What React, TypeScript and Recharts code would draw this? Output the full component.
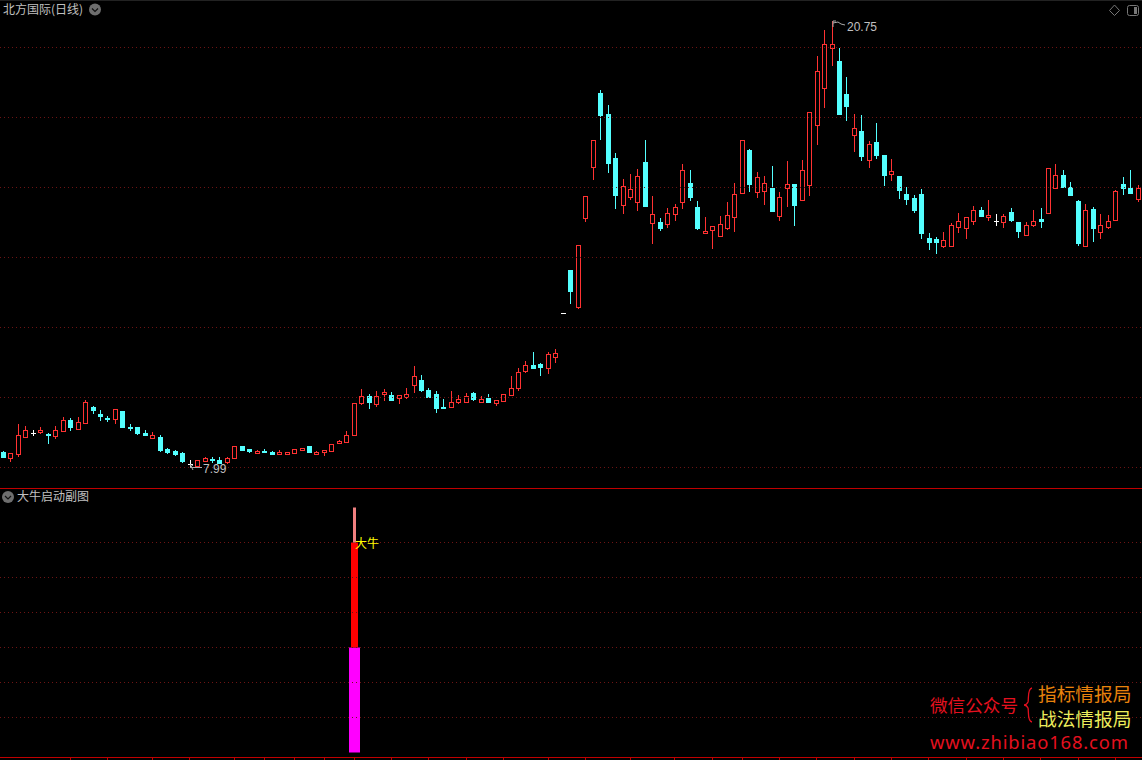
import React from "react";
import { Bar, ComposedChart, ReferenceLine, XAxis, YAxis } from "recharts";

const opens = [
  8.44, 8.28, 8.39, 8.88, 8.98, 9.02, 8.95, 8.9, 9.05, 9.35,
  9.1, 9.28, 9.73, 9.53, 9.4, 9.39, 9.61, 9.15, 9.15, 8.98,
  8.85, 8.87, 8.53, 8.47, 8.41, 8.09, 8.05, 8.19, 8.24, 8.2,
  8.15, 8.28, 8.6, 8.54, 8.42, 8.48, 8.44, 8.38, 8.38, 8.42,
  8.51, 8.61, 8.38, 8.45, 8.48, 8.71, 8.74, 8.93, 9.84, 10.04,
  9.82, 10.1, 10.07, 9.99, 10.01, 10.35, 10.5, 10.21, 10.1, 9.73,
  9.73, 9.87, 9.87, 10.13, 9.87, 9.98, 9.85, 9.9, 10.07, 10.28,
  10.75, 10.93, 10.95, 10.85, 11.16, 12.4, 13.64, 12.59, 15.14, 16.59,
  18.7, 18.1, 16.84, 15.51, 15.74, 15.59, 16.73, 14.99, 15.01, 14.97,
  15.25, 15.59, 16.13, 15.44, 14.71, 14.79, 14.62, 14.85, 15.17, 15.85,
  17.07, 15.88, 15.91, 15.98, 15.19, 15.99, 16.1, 15.64, 16.08, 17.78,
  18.85, 19.99, 19.61, 18.67, 17.51, 17.61, 16.79, 17.3, 16.93, 16.39,
  16.33, 15.81, 15.7, 15.81, 14.56, 14.53, 14.33, 14.33, 14.87, 14.84,
  15.05, 15.36, 15.16, 15.03, 15.01, 15.3, 15.01, 14.64, 14.93, 15.1,
  15.28, 15.98, 16.36, 16.01, 15.61, 14.33, 15.38, 14.73, 14.87, 15.07,
  16.1, 15.98, 15.67,
];
const closes = [
  8.3, 8.4, 8.92, 9.06, 8.98, 9.08, 8.94, 9.06, 9.35, 9.15,
  9.29, 9.87, 9.65, 9.48, 9.38, 9.66, 9.15, 9.13, 8.98, 8.93,
  8.92, 8.5, 8.44, 8.38, 8.18, 8.09, 8.2, 8.26, 8.22, 8.12,
  8.27, 8.6, 8.5, 8.47, 8.47, 8.45, 8.38, 8.44, 8.44, 8.52,
  8.57, 8.44, 8.44, 8.49, 8.66, 8.75, 8.94, 9.83, 10.03, 9.87,
  10.03, 10.17, 9.93, 10.06, 10.09, 10.6, 10.21, 10.01, 9.7, 9.7,
  9.86, 9.97, 10.03, 9.95, 9.97, 9.87, 9.92, 10.09, 10.26, 10.74,
  10.94, 10.85, 10.87, 11.23, 11.26, 12.4, 13.04, 14.35, 15.77, 17.35,
  18.07, 16.7, 15.78, 16.03, 15.97, 16.32, 15.47, 15.23, 14.84, 15.26,
  15.43, 16.49, 15.73, 14.84, 14.76, 14.89, 14.95, 15.2, 15.8, 17.37,
  16.1, 16.29, 16.12, 15.33, 15.73, 16.09, 15.5, 16.49, 18.15, 19.32,
  20.09, 20.09, 18.1, 18.33, 17.69, 16.9, 17.23, 16.93, 16.36, 16.46,
  15.93, 15.67, 15.36, 14.7, 14.44, 14.44, 14.49, 14.93, 15.04, 15.16,
  15.36, 15.18, 15.21, 15.03, 15.18, 15.07, 14.76, 14.93, 15.04, 15.04,
  16.55, 16.35, 16.01, 15.78, 14.41, 15.35, 14.84, 14.93, 15.04, 15.89,
  15.98, 15.84, 15.98,
];
const highs = [
  8.47, 8.4, 9.24, 9.18, 9.08, 9.15, 8.98, 9.18, 9.44, 9.41,
  9.44, 9.93, 9.75, 9.64, 9.47, 9.66, 9.61, 9.24, 9.15, 9.07,
  9.0, 8.93, 8.55, 8.5, 8.44, 8.21, 8.2, 8.3, 8.3, 8.3,
  8.31, 8.6, 8.6, 8.54, 8.49, 8.53, 8.47, 8.5, 8.44, 8.52,
  8.57, 8.61, 8.46, 8.49, 8.66, 8.78, 9.03, 9.83, 10.23, 10.1,
  10.18, 10.23, 10.15, 10.06, 10.27, 10.9, 10.64, 10.27, 10.18, 9.95,
  10.18, 10.07, 10.13, 10.15, 10.04, 10.1, 9.92, 10.09, 10.61, 10.84,
  11.04, 11.3, 10.98, 11.3, 11.38, 12.41, 13.64, 14.35, 15.77, 17.35,
  18.78, 18.36, 16.98, 16.24, 16.38, 16.53, 17.36, 15.76, 15.13, 15.41,
  15.53, 16.67, 16.5, 15.61, 15.16, 14.89, 15.18, 15.58, 16.13, 17.37,
  17.1, 16.44, 16.33, 16.61, 15.87, 16.76, 16.1, 16.78, 18.15, 19.76,
  20.5, 20.75, 19.98, 19.16, 18.1, 18.07, 17.33, 17.84, 16.93, 16.81,
  16.33, 16.01, 15.78, 15.96, 14.7, 14.58, 14.73, 14.98, 15.27, 15.16,
  15.47, 15.44, 15.64, 15.24, 15.24, 15.41, 15.01, 15.01, 15.36, 15.41,
  16.55, 16.67, 16.5, 16.16, 15.64, 15.53, 15.44, 15.24, 15.21, 15.93,
  16.3, 16.5, 16.07,
];
const lows = [
  8.27, 8.15, 8.3, 8.88, 8.9, 8.95, 8.67, 8.81, 9.05, 9.04,
  9.07, 9.28, 9.53, 9.33, 9.3, 9.24, 9.15, 9.04, 8.93, 8.9,
  8.81, 8.44, 8.38, 8.33, 8.13, 7.99, 8.03, 8.18, 8.13, 8.1,
  8.1, 8.28, 8.47, 8.41, 8.42, 8.41, 8.38, 8.38, 8.38, 8.42,
  8.51, 8.41, 8.38, 8.33, 8.48, 8.71, 8.7, 8.93, 9.78, 9.67,
  9.73, 9.9, 9.93, 9.81, 9.95, 10.13, 10.15, 9.98, 9.55, 9.67,
  9.73, 9.81, 9.84, 9.9, 9.84, 9.84, 9.75, 9.87, 10.04, 10.18,
  10.7, 10.81, 10.61, 10.67, 10.98, 12.39, 12.67, 12.53, 15.01, 16.21,
  17.36, 16.41, 15.38, 15.24, 15.64, 15.33, 15.44, 14.38, 14.76, 14.84,
  15.04, 15.38, 15.61, 14.78, 14.67, 14.24, 14.62, 14.78, 14.73, 15.85,
  15.87, 15.7, 15.5, 15.3, 15.04, 15.44, 14.9, 15.64, 15.76, 17.21,
  18.27, 19.47, 18.1, 17.9, 17.01, 16.76, 16.56, 16.81, 16.04, 16.18,
  15.67, 15.5, 15.27, 14.53, 14.21, 14.1, 14.27, 14.3, 14.7, 14.53,
  14.93, 15.16, 15.04, 14.9, 14.84, 15.01, 14.56, 14.61, 14.87, 14.84,
  15.28, 15.96, 16.01, 15.76, 14.33, 14.3, 14.44, 14.53, 14.81, 15.04,
  15.78, 15.84, 15.58,
];

const priceGrid = [8, 10, 12, 14, 16, 18, 20];
const subGrid = [1, 2, 3, 4, 5, 6];
const axisTicks = [
  9, 14, 20, 25, 31, 35, 39, 43, 47, 52, 57, 62, 67, 73, 78, 84, 90, 95, 99,
  104, 109, 114, 119, 124, 129, 134, 139, 144, 149,
];

// the one day the indicator fires, three stacked parts
const signalDay = 47;
const signalBase = 3;
const signalBody = 3;
const signalTip = 1;

const RED = "#ff3232";
const CYAN = "#54ffff";
const GRID = "#6e1414";
const AXIS = "#c00000";
const CJK = '"Noto Sans CJK SC", sans-serif';

const candles = opens.map((open, i) => ({
  i,
  open,
  close: closes[i],
  high: highs[i],
  low: lows[i],
}));

const signalRows = opens.map((_, i) => ({
  i,
  base: i === signalDay ? signalBase : 0,
  body: i === signalDay ? signalBody : 0,
  tip: i === signalDay ? signalTip : 0,
}));

function Candle(props: any) {
  const { x, y, width, height, payload } = props;
  const { open, close, high, low } = payload;
  const toY = (v: number) => Math.round(y + ((high - v) / (high - low)) * height);
  const col = Math.round(x + width / 2 - 0.5);
  const top = toY(Math.max(open, close));
  const bottom = toY(Math.min(open, close));
  const color = close > open ? RED : close < open ? CYAN : "#ffffff";
  return (
    <g>
      <rect x={col} y={toY(high)} width={1} height={Math.max(1, toY(low) - toY(high))} fill={color} />
      {close > open ? (
        <rect x={col - 1.5} y={top + 0.5} width={4} height={Math.max(1, bottom - top)} fill="#000" stroke={color} />
      ) : (
        <rect x={col - 2} y={top} width={5} height={Math.max(1, bottom - top + (close < open ? 1 : 0))} fill={color} />
      )}
    </g>
  );
}

// stacked parts share a band, each one drawn at its own width
const signalPart = (fill: string, w: number) => (props: any) => {
  const { x, y, width, height } = props;
  if (!height) return <g />;
  return <rect x={Math.round(x + (width - w) / 2)} y={y} width={w} height={height} fill={fill} />;
};

// short mark under the axis line, sits on the left edge of the day
const AxisTick = (props: any) => (
  <line x1={Math.round(props.x) - 0.5} x2={Math.round(props.x) - 0.5} y1={268} y2={271} stroke={AXIS} />
);

function Chevron({ cx, cy }: { cx: number; cy: number }) {
  return (
    <g>
      <circle cx={cx} cy={cy} r={6} fill="#6e6e6e" />
      <path d={`M${cx - 3} ${cy - 1}L${cx} ${cy + 2}L${cx + 3} ${cy - 1}`} fill="none" stroke="#111" strokeWidth={1.2} />
    </g>
  );
}

function Overlay() {
  return (
    <svg width={1142} height={760} style={{ position: "absolute", left: 0, top: 0 }}>
      <text x={3} y={14} fontSize={12} fill="#c0c0c0" fontFamily={CJK}>北方国际(日线)</text>
      <Chevron cx={95} cy={9.5} />
      <text x={17} y={501} fontSize={12} fill="#c0c0c0" fontFamily={CJK}>大牛启动副图</text>
      <Chevron cx={8} cy={497} />

      <path d="M1114.5 5L1119.5 10.5L1114.5 15.5L1109.5 10.5Z" fill="none" stroke="#777" />
      <rect x={1127.5} y={5.5} width={11} height={10} rx={2} fill="none" stroke="#777" />
      <rect x={1134} y={7} width={3} height={7} fill="#777" />

      <path d="M833 27V21H836M833 23L838 22L841 24L845 25" fill="none" stroke="#aaa" />
      <text x={847} y={31} fontSize={12} fill="#c0c0c0" fontFamily="Liberation Sans">20.75</text>
      <path d="M190 464L193 470M190 467.5H202M190 467.5L193 465" fill="none" stroke="#aaa" />
      <text x={203} y={473} fontSize={12} fill="#c0c0c0" fontFamily="Liberation Sans">7.99</text>

      <text x={355} y={548} fontSize={12} fill="#ffff00" fontFamily={CJK}>大牛</text>

      <text x={930} y={712} fontSize={17.6} fill="#e4101f" fontFamily={CJK}>微信公众号</text>
      <path d="M1032 688C1027 689 1029 699 1028 702C1027 704 1025 705 1024 705C1025 705 1027 706 1028 708C1029 711 1027 721 1032 722" fill="none" stroke="#e4101f" strokeWidth={1.3} />
      <text x={1038} y={701} fontSize={18.7} fill="#e8820c" fontFamily={CJK}>指标情报局</text>
      <text x={1038} y={726} fontSize={18.7} fill="#ecec5c" fontFamily={CJK}>战法情报局</text>
      <text x={930} y={749} fontSize={18.4} letterSpacing={0.85} fill="#e4101f" fontFamily="Noto Sans">www.zhibiao168.com</text>
    </svg>
  );
}

export default function App() {
  return (
    <div style={{ position: "absolute", left: 0, top: 0, width: 1142, height: 760, background: "#000", overflow: "hidden" }}>
      <div style={{ position: "absolute", left: 0, top: 0, width: 1142, height: 1, background: "#222" }} />
      <div style={{ position: "absolute", left: 0, top: 0 }}>
        <ComposedChart width={1142} height={488} data={candles} margin={{ top: 0, right: 0, bottom: 0, left: 0 }}>
          <XAxis dataKey="i" type="category" scale="band" hide />
          <YAxis type="number" domain={[7.414, 21.357]} width={0} tick={false} axisLine={false} tickLine={false} allowDataOverflow />
          {priceGrid.map((v) => (
            <ReferenceLine key={v} y={v} stroke={GRID} strokeDasharray="1 3" />
          ))}
          <Bar dataKey={(d: any) => [d.low, d.high]} barSize={5} isAnimationActive={false} shape={Candle} />
        </ComposedChart>
      </div>
      <div style={{ position: "absolute", left: 0, top: 488, width: 1142, height: 1, background: AXIS }} />
      <div style={{ position: "absolute", left: 0, top: 489 }}>
        <ComposedChart width={1142} height={271} data={signalRows} margin={{ top: 0, right: 0, bottom: 0, left: 0 }}>
          <XAxis
            dataKey="i"
            type="category"
            scale="band"
            ticks={axisTicks}
            interval={0}
            height={2.5}
            tick={AxisTick}
            tickLine={false}
            axisLine={{ stroke: AXIS }}
          />
          <YAxis type="number" domain={[-0.143, 7.529]} width={0} tick={false} axisLine={false} tickLine={false} allowDataOverflow />
          {subGrid.map((v) => (
            <ReferenceLine key={v} y={v} stroke={GRID} strokeDasharray="1 3" />
          ))}
          <Bar dataKey="base" stackId="s" barSize={11} isAnimationActive={false} shape={signalPart("#ff00ff", 11)} />
          <Bar dataKey="body" stackId="s" barSize={11} isAnimationActive={false} shape={signalPart("#ff0000", 7)} />
          <Bar dataKey="tip" stackId="s" barSize={11} isAnimationActive={false} shape={signalPart("#f08080", 3)} />
        </ComposedChart>
      </div>
      <Overlay />
    </div>
  );
}
